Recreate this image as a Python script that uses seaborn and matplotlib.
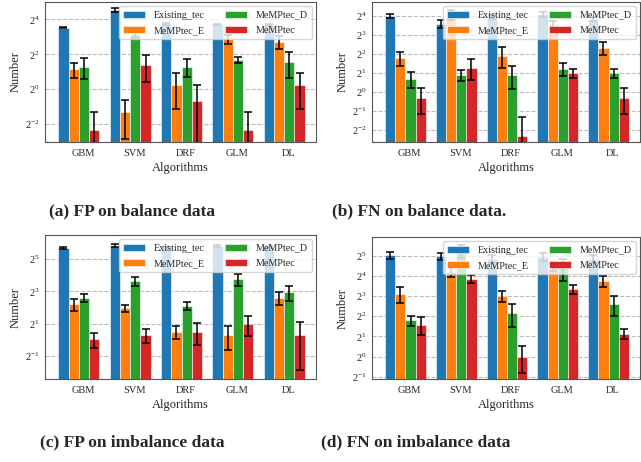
import matplotlib
matplotlib.use('Agg')
import matplotlib.pyplot as plt
import matplotlib.transforms as mtransforms
import numpy as np
import pandas as pd
import seaborn as sns

algorithms = ['GBM', 'SVM', 'DRF', 'GLM', 'DL']
methods = ['Existing_tec', 'MeMPtec_E', 'MeMPtec_D', 'MeMPtec']

# (a) FP on balance data: mean and sd per method, one value per algorithm
fp_bal_mean = {
    'Existing_tec': [11.6, 23.1, 13.3, 13.3, 12.8],
    'MeMPtec_E': [2.2, 0.40, 1.19, 7.3, 6.6],
    'MeMPtec_D': [2.46, 9.0, 2.46, 3.2, 3.0],
    'MeMPtec': [0.2, 2.62, 0.62, 0.2, 1.19],
}
fp_bal_sd = {
    'Existing_tec': [0.3, 1.7, 0.7, 0.3, 0.5],
    'MeMPtec_E': [0.67, 0.26, 0.74, 1.3, 1.7],
    'MeMPtec_D': [0.95, 1.5, 0.86, 0.35, 1.45],
    'MeMPtec': [0.2, 1.3, 0.57, 0.2, 0.74],
}

# (b) FN on balance data
fn_bal_mean = {
    'Existing_tec': [16.0, 11.9, 15.5, 17.0, 14.4],
    'MeMPtec_E': [3.41, 17.0, 3.76, 11.9, 4.96],
    'MeMPtec_D': [1.6, 1.83, 1.83, 2.33, 2.0],
    'MeMPtec': [0.81, 2.41, 0.2, 2.0, 0.81],
}
fn_bal_sd = {
    'Existing_tec': [1.4, 1.7, 1.0, 1.5, 1.0],
    'MeMPtec_E': [0.85, 3.0, 1.34, 1.5, 1.15],
    'MeMPtec_D': [0.46, 0.36, 0.7, 0.52, 0.33],
    'MeMPtec': [0.36, 0.88, 0.2, 0.33, 0.36],
}

# (c) FP on imbalance data
fp_imb_mean = {
    'Existing_tec': [51.3, 57.7, 55.7, 56.9, 53.8],
    'MeMPtec_E': [4.66, 3.86, 1.41, 1.22, 6.1],
    'MeMPtec_D': [6.1, 12.7, 4.35, 13.5, 7.8],
    'MeMPtec': [1.01, 1.22, 1.41, 2.0, 1.22],
}
fp_imb_sd = {
    'Existing_tec': [2.0, 3.0, 2.0, 2.0, 2.0],
    'MeMPtec_E': [1.2, 0.6, 0.39, 0.58, 1.7],
    'MeMPtec_D': [0.95, 2.4, 0.82, 3.3, 2.5],
    'MeMPtec': [0.3, 0.36, 0.62, 0.81, 0.95],
}

# (d) FN on imbalance data
fn_imb_mean = {
    'Existing_tec': [32.7, 31.6, 29.0, 31.0, 29.0],
    'MeMPtec_E': [8.57, 18.4, 8.0, 22.0, 13.5],
    'MeMPtec_D': [3.48, 38.0, 4.4, 20.7, 6.06],
    'MeMPtec': [3.0, 14.5, 1.0, 10.1, 2.2],
}
fn_imb_sd = {
    'Existing_tec': [4.0, 4.0, 4.0, 4.0, 4.0],
    'MeMPtec_E': [2.2, 3.0, 1.4, 3.0, 2.4],
    'MeMPtec_D': [0.6, 8.0, 1.6, 7.5, 2.0],
    'MeMPtec': [0.9, 1.8, 0.44, 1.5, 0.35],
}

captions = ['(a) FP on balance data', '(b) FN on balance data.',
            '(c) FP on imbalance data', '(d) FN on imbalance data']
caption_xy = [(0.206, 0.543), (0.654, 0.543), (0.206, 0.043), (0.649, 0.043)]

sns.set_style('ticks')
plt.rcParams['font.family'] = ['Liberation Serif', 'DejaVu Serif']
palette = sns.color_palette('tab10', 4)

fig = plt.figure(figsize=(6.41, 4.62), dpi=100)

panels = [
    (fp_bal_mean, fp_bal_sd, [0.0702, 0.6926, 0.4228, 0.3031], (-3.03, 5.0), [-2, 0, 2, 4]),
    (fn_bal_mean, fn_bal_sd, [0.5803, 0.6926, 0.4181, 0.3031], (-2.64, 4.73), [-2, -1, 0, 1, 2, 3, 4]),
    (fp_imb_mean, fp_imb_sd, [0.0702, 0.1790, 0.4228, 0.3124], (-2.47, 6.51), [-1, 1, 3, 5]),
    (fn_imb_mean, fn_imb_sd, [0.5803, 0.1790, 0.4181, 0.3081], (-1.13, 5.93), [-1, 0, 1, 2, 3, 4, 5]),
]

# x tick labels sit a few pixels right of the group centres in the original
label_shift = mtransforms.ScaledTranslation(0.04, 0, fig.dpi_scale_trans)

for (means, sds, rect, ylim, ticks), caption, cxy in zip(panels, captions, caption_xy):
    ax = fig.add_axes(rect)
    rows = []
    for m in methods:
        for alg, v, s in zip(algorithms, means[m], sds[m]):
            rows.append({'Algorithms': alg, 'Number': v, 'sd': s, 'method': m})
    df = pd.DataFrame(rows)
    sns.barplot(data=df, x='Algorithms', y='Number', hue='method',
                hue_order=methods, order=algorithms, palette=palette,
                errorbar=None, ax=ax, saturation=1.0,
                edgecolor='white', linewidth=0.4)
    # error bars on top of each bar container
    for cont, m in zip(ax.containers, methods):
        xs = [p.get_x() + p.get_width() / 2 for p in cont.patches]
        ax.errorbar(xs, means[m], yerr=sds[m], fmt='none', ecolor='black',
                    elinewidth=1.1, capsize=3, capthick=1.1, zorder=3)
    ax.set_yscale('log', base=2)
    ax.set_ylim(2.0 ** ylim[0], 2.0 ** ylim[1])
    ax.set_yticks([2.0 ** t for t in ticks])
    ax.minorticks_off()
    ax.set_xlim(-0.66, 4.62)
    ax.yaxis.grid(True, linestyle='--', color='#bbbbbb', linewidth=0.8)
    ax.set_axisbelow(True)
    for sp in ax.spines.values():
        sp.set_visible(True)
        sp.set_color('#555555')
    ax.tick_params(axis='both', labelsize=7.5, length=0)
    ax.tick_params(axis='x', pad=5)
    ax.tick_params(axis='y', pad=4)
    for lab in ax.get_xticklabels():
        lab.set_transform(lab.get_transform() + label_shift)
    ax.set_xlabel('Algorithms', fontsize=9, labelpad=3)
    ax.set_ylabel('Number', fontsize=9, labelpad=2)
    ax.legend(loc='upper right', ncol=2, fontsize=7.3, title=None,
              framealpha=0.8, handlelength=2.2, handletextpad=0.8,
              columnspacing=2.0, borderpad=0.45, labelspacing=0.6,
              borderaxespad=0.4)
    fig.text(cxy[0], cxy[1], caption, fontsize=12.5, fontweight='bold',
             ha='center', va='center')

fig.savefig('out.png', dpi=100)
